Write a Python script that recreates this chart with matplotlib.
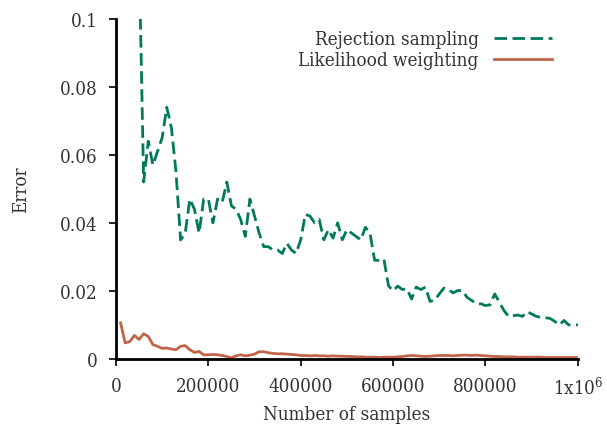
import numpy as np
import matplotlib
matplotlib.use("Agg")
import matplotlib.pyplot as plt
from matplotlib.ticker import FixedLocator, FuncFormatter

# samples, in steps of 10000
rej_x = np.arange(50000, 1000001, 10000)
rej_err = [
    0.120, 0.052, 0.064, 0.057, 0.061, 0.065, 0.074, 0.068, 0.055, 0.035,
    0.037, 0.047, 0.044, 0.037, 0.047, 0.047, 0.040, 0.047, 0.046, 0.052,
    0.045, 0.044, 0.041, 0.036, 0.047, 0.042, 0.037, 0.033, 0.033, 0.032,
    0.032, 0.031, 0.034, 0.032, 0.031, 0.035, 0.0425, 0.042, 0.040, 0.041,
    0.035, 0.038, 0.0355, 0.040, 0.035, 0.038, 0.037, 0.036, 0.035, 0.0387,
    0.037, 0.029, 0.029, 0.0294, 0.0215, 0.020, 0.0214, 0.0204, 0.0206, 0.0176,
    0.0211, 0.0204, 0.0211, 0.0169, 0.0172, 0.0191, 0.0208, 0.0204, 0.0194, 0.0201,
    0.0201, 0.0181, 0.0172, 0.0162, 0.0162, 0.0157, 0.0159, 0.0191, 0.0167, 0.0142,
    0.0125, 0.0127, 0.0129, 0.0125, 0.0139, 0.0132, 0.0125, 0.0122, 0.0121, 0.0119,
    0.0110, 0.0100, 0.0113, 0.0100, 0.0100, 0.0100,
]

lw_x = np.arange(10000, 1000001, 10000)
lw_err = [
    0.0106, 0.0047, 0.0051, 0.0069, 0.0057, 0.0074, 0.0066, 0.0042, 0.0037, 0.0031,
    0.0032, 0.0029, 0.0027, 0.0037, 0.0039, 0.0027, 0.0019, 0.0022, 0.0012, 0.0012,
    0.0013, 0.0012, 0.0010, 0.0007, 0.0003, 0.0009, 0.0012, 0.0009, 0.0011, 0.0014,
    0.0021, 0.0021, 0.0018, 0.0016, 0.0015, 0.0015, 0.0014, 0.0013, 0.0012, 0.0010,
    0.0010, 0.0009, 0.0010, 0.0009, 0.0009, 0.0008, 0.0009, 0.0008, 0.0008, 0.0007,
    0.0007, 0.0006, 0.0006, 0.0005, 0.0005, 0.0005, 0.0004, 0.0005, 0.0005, 0.0005,
    0.0006, 0.0007, 0.0009, 0.0010, 0.0009, 0.0008, 0.0007, 0.0008, 0.0009, 0.0010,
    0.0010, 0.0010, 0.0009, 0.0010, 0.0011, 0.0011, 0.0010, 0.0011, 0.0010, 0.0009,
    0.0008, 0.0007, 0.0007, 0.0006, 0.0006, 0.0006, 0.0005, 0.0005, 0.0005, 0.0005,
    0.0005, 0.0005, 0.0004, 0.0004, 0.0004, 0.0004, 0.0004, 0.0004, 0.0004, 0.0004,
]

x_ticks = [0, 200000, 400000, 600000, 800000, 1000000]
y_ticks = [0, 0.02, 0.04, 0.06, 0.08, 0.1]

plt.rcParams['font.family'] = ['DejaVu Serif']
plt.rcParams['font.stretch'] = 'condensed'
plt.rcParams['mathtext.fontset'] = 'dejavuserif'
text_col = '#333333'

fig = plt.figure(figsize=(6.07, 4.31), dpi=100)
ax = fig.add_axes([0.191, 0.165, 0.761, 0.789])

ax.plot(rej_x, rej_err, color='#007a5a', lw=2, linestyle=(0, (4.5, 2)),
        label='Rejection sampling')
ax.plot(lw_x, lw_err, color='#c0644a', lw=2, label='Likelihood weighting')

ax.set_xlim(0, 1000000)
ax.set_ylim(0, 0.1)
ax.xaxis.set_major_locator(FixedLocator(x_ticks))
ax.yaxis.set_major_locator(FixedLocator(y_ticks))


def xfmt(v, pos):
    if v == 1000000:
        return r'1x10$^{6}$'
    return '%d' % v


def yfmt(v, pos):
    if v == 0:
        return '0'
    return ('%.2f' % v).rstrip('0')


ax.xaxis.set_major_formatter(FuncFormatter(xfmt))
ax.yaxis.set_major_formatter(FuncFormatter(yfmt))

for side in ['top', 'right']:
    ax.spines[side].set_visible(False)
for side in ['left', 'bottom']:
    ax.spines[side].set_linewidth(2)
ax.tick_params(direction='out', length=5, width=1.2, labelsize=13.5,
               labelcolor=text_col, pad=8)

ax.set_xlabel('Number of samples', fontsize=13.5, color=text_col, labelpad=5)
ax.set_ylabel('Error', fontsize=13.5, color=text_col, labelpad=22)

leg = ax.legend(loc='upper right', bbox_to_anchor=(0.98, 1.016), frameon=False,
                markerfirst=False, fontsize=13.5, handlelength=3.1,
                handletextpad=0.8, labelspacing=0.15)
for t in leg.get_texts():
    t.set_color(text_col)

fig.savefig('out.png', dpi=100)
